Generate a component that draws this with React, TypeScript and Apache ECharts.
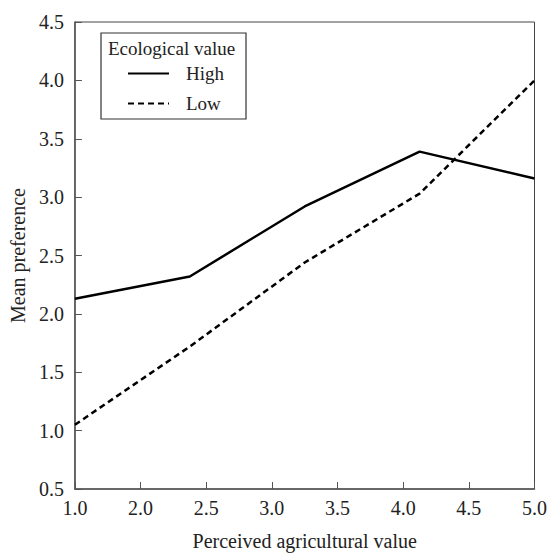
import React, { useEffect, useRef } from "react";
import * as echarts from "echarts";

const xTickLabels = ["1.0", "2.0", "2.5", "3.0", "3.5", "4.0", "4.5", "5.0"];
const xValues = [1, 2, 3, 4, 5];
const highValues = [2.13, 2.32, 2.92, 3.39, 3.16];
const lowValues = [1.05, 1.72, 2.44, 3.03, 4.0];
const seriesNames = ["High", "Low"];
const legendTitle = "Ecological value";
const xAxisTitle = "Perceived agricultural value";
const yAxisTitle = "Mean preference";

const FONT = "'Liberation Serif', 'Times New Roman', serif";

export default function App() {
  const ref = useRef<HTMLDivElement>(null);
  useEffect(() => {
    if (!ref.current) return;
    document.body.style.margin = "0";
    const chart = echarts.init(ref.current, null, { renderer: "svg" });
    const axisColor = "#555";
    chart.setOption({
      animation: false,
      backgroundColor: "#fff",
      textStyle: { fontFamily: FONT, color: "#222" },
      grid: {
        left: 73,
        right: 14,
        top: 22,
        bottom: 67,
        show: true,
        borderColor: "#444",
        borderWidth: 1,
      },
      legend: {
        data: seriesNames,
        orient: "vertical",
        left: 127,
        top: 64,
        padding: 0,
        itemWidth: 41,
        itemHeight: 14,
        itemGap: 11,
        z: 10,
        itemStyle: { opacity: 0 },
        textStyle: { fontFamily: FONT, fontSize: 19, color: "#222", padding: [0, 0, 0, 12] },
      },
      graphic: [
        {
          type: "rect",
          shape: { x: 101, y: 33, width: 145, height: 86 },
          style: { fill: "#fff", stroke: "#333", lineWidth: 1.2 },
          z: 5,
        },
        {
          type: "text",
          x: 108,
          y: 48,
          style: {
            text: legendTitle,
            fontFamily: FONT,
            fontSize: 19,
            fill: "#222",
            verticalAlign: "middle",
          },
          z: 6,
        },
      ],
      xAxis: [
        {
          type: "category",
          data: xTickLabels,
          boundaryGap: false,
          position: "bottom",
          name: xAxisTitle,
          nameLocation: "middle",
          nameGap: 42,
          nameTextStyle: { fontFamily: FONT, fontSize: 20, color: "#222" },
          axisLine: { lineStyle: { color: axisColor, width: 1.5 } },
          axisTick: { inside: true, length: 7, alignWithLabel: true, lineStyle: { color: axisColor } },
          axisLabel: { fontFamily: FONT, fontSize: 20, color: "#222", margin: 9 },
          splitLine: { show: false },
        },
        {
          type: "value",
          min: 1,
          max: 5,
          show: false,
          position: "top",
        },
      ],
      yAxis: {
        type: "value",
        min: 0.5,
        max: 4.5,
        interval: 0.5,
        name: yAxisTitle,
        nameLocation: "middle",
        nameGap: 46,
        nameTextStyle: { fontFamily: FONT, fontSize: 20, color: "#222" },
        axisLine: { show: true, lineStyle: { color: axisColor, width: 1.5 } },
        axisTick: { show: true, inside: true, length: 7, lineStyle: { color: axisColor } },
        axisLabel: {
          fontFamily: FONT,
          fontSize: 20,
          color: "#222",
          margin: 11,
          formatter: (v: number) => v.toFixed(1),
        },
        splitLine: { show: false },
      },
      series: [
        {
          name: seriesNames[0],
          type: "line",
          xAxisIndex: 1,
          symbol: "none",
          data: xValues.map((x, i) => [x, highValues[i]]),
          lineStyle: { color: "#000", width: 2.5, type: "solid" },
          itemStyle: { color: "#000" },
        },
        {
          name: seriesNames[1],
          type: "line",
          xAxisIndex: 1,
          symbol: "none",
          data: xValues.map((x, i) => [x, lowValues[i]]),
          lineStyle: { color: "#000", width: 2.5, type: [6, 4] },
          itemStyle: { color: "#000" },
        },
      ],
    });
    return () => chart.dispose();
  }, []);
  return <div ref={ref} style={{ width: 550, height: 556 }} />;
}
